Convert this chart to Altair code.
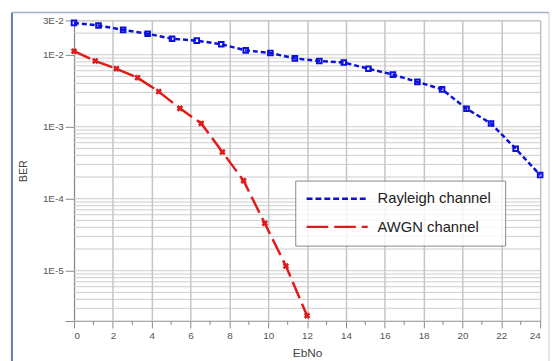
import math
import altair as alt
import pandas as pd

series = ["Rayleigh channel", "AWGN channel"]

ebno_rayleigh = [0, 1.26, 2.53, 3.79, 5.05, 6.32, 7.58, 8.84, 10.11, 11.37,
                 12.63, 13.89, 15.16, 16.42, 17.68, 18.95, 20.21, 21.47, 22.74, 24]
ber_rayleigh = [2.77e-2, 2.55e-2, 2.22e-2, 1.96e-2, 1.67e-2, 1.57e-2, 1.40e-2, 1.15e-2, 1.06e-2, 8.9e-3,
                8.2e-3, 7.8e-3, 6.4e-3, 5.3e-3, 4.2e-3, 3.3e-3, 1.78e-3, 1.11e-3, 4.95e-4, 2.13e-4]

ebno_awgn = [0, 1.09, 2.18, 3.27, 4.36, 5.45, 6.55, 7.64, 8.73, 9.82, 10.91, 12]
ber_awgn = [1.12e-2, 8.2e-3, 6.4e-3, 4.8e-3, 3.08e-3, 1.80e-3, 1.11e-3, 4.45e-4, 1.78e-4, 4.55e-5, 1.16e-5, 2.37e-6]

x_major = list(range(0, 25, 2))
x_minor = list(range(1, 25, 2))
y_label_values = [2e-6, 1e-5, 1e-4, 1e-3, 1e-2, 3e-2]
y_label_texts = ["", "1E-5", "1E-4", "1E-3", "1E-2", "3E-2"]
y_grid_values = [k * 10.0 ** e for e in range(-6, -1) for k in range(1, 10)]
y_grid_values = [v for v in y_grid_values if 2e-6 <= v <= 3.01e-2]

df = pd.DataFrame({
    "ebno": ebno_rayleigh + ebno_awgn,
    "ber": ber_rayleigh + ber_awgn,
    "series": [series[0]] * len(ebno_rayleigh) + [series[1]] * len(ebno_awgn),
})
df_r = df[df.series == series[0]]
df_a = df[df.series == series[1]]
df_ygrid = pd.DataFrame({"ber": y_grid_values})
df_xminor = pd.DataFrame({"ebno": x_minor})

FONT = "Liberation Sans"
xs = alt.Scale(domain=[0, 24], nice=False, zero=False)
ys = alt.Scale(type="log", domain=[2e-6, 3e-2], nice=False)

conds = " : ".join([f"abs(log(datum.value)/LN10 - ({math.log10(v):.6f})) < 0.01 ? '{t}'"
                    for v, t in zip(y_label_values, y_label_texts)]) + " : ''"

x_axis = alt.Axis(
    orient="bottom", values=x_major, grid=True, gridColor="#c4c4c4", gridWidth=1.5,
    tickSize=7, tickColor="#888", domainColor="#888", labelColor="#555",
    labelFontSize=10, labelFont=FONT, labelPadding=3, title="EbNo",
    titleFont=FONT, titleFontSize=12, titleFontWeight="normal", titleColor="#444",
    titlePadding=7)
y_axis = alt.Axis(
    orient="left", values=y_label_values, labelExpr=conds, grid=False,
    tickSize=9, tickColor="#888", domainColor="#888", labelColor="#555",
    labelFontSize=10, labelFont=FONT, labelPadding=2, title="BER",
    titleFont=FONT, titleFontSize=11, titleFontWeight="normal", titleColor="#444",
    titlePadding=14)

X = alt.X("ebno:Q", scale=xs, axis=x_axis)
Y = alt.Y("ber:Q", scale=ys, axis=y_axis)

colors = ["#0c10dc", "#e01a1a"]
dashes = [[5, 3], [18, 6]]

ygrid = alt.Chart(df_ygrid).mark_rule(color="#cbcbcb", strokeWidth=1).encode(
    y=Y, x=alt.value(0), x2=alt.value(473))

xminor = alt.Chart(df_xminor).mark_rule(color="#888", strokeWidth=1).encode(
    x=X, y=alt.value(305), y2=alt.value(309))

line_r = alt.Chart(df_r).mark_line(strokeWidth=2.5, color=colors[0], strokeDash=dashes[0]).encode(
    x=X, y=Y, order="ebno:Q")
line_a = alt.Chart(df_a).mark_line(strokeWidth=2.5, color=colors[1], strokeDash=dashes[1]).encode(
    x=X, y=Y, order="ebno:Q")

pts_r = alt.Chart(df_r).mark_point(shape="square", filled=False, strokeWidth=2,
                                   size=22, color=colors[0], opacity=1).encode(x=X, y=Y)
pts_a = alt.Chart(df_a).mark_point(shape="cross", filled=True, size=45, angle=45,
                                   color=colors[1], opacity=1).encode(x=X, y=Y)

# legend (drawn as a boxed key inside the plot)
df_leg = pd.DataFrame({"label": series})
one = df_leg.head(1)
leg_box = alt.Chart(one).mark_rect(fill="white", fillOpacity=0.8, stroke="#888",
                                   strokeWidth=1).encode(
    x=alt.value(225), x2=alt.value(438), y=alt.value(163), y2=alt.value(229))
leg_line_r = alt.Chart(one).mark_rule(color=colors[0], strokeWidth=2.5,
                                      strokeDash=[6, 3]).encode(
    x=alt.value(236), x2=alt.value(298), y=alt.value(181))
leg_line_a = alt.Chart(one).mark_rule(color=colors[1], strokeWidth=2.5,
                                      strokeDash=[22, 6]).encode(
    x=alt.value(236), x2=alt.value(298), y=alt.value(209.5))
leg_txt_r = alt.Chart(df_leg[df_leg.label == series[0]]).mark_text(
    align="left", baseline="middle", font=FONT, fontSize=15, color="#222").encode(
    text="label:N", x=alt.value(308), y=alt.value(180))
leg_txt_a = alt.Chart(df_leg[df_leg.label == series[1]]).mark_text(
    align="left", baseline="middle", font=FONT, fontSize=15, color="#222").encode(
    text="label:N", x=alt.value(308), y=alt.value(210))

frame_left = alt.Chart(one).mark_rule(color="#5b7db3", strokeWidth=2).encode(
    x=alt.value(-63), y=alt.value(-8), y2=alt.value(360))
frame_top = alt.Chart(one).mark_rule(color="#9fb2ca", strokeWidth=1.5).encode(
    x=alt.value(-63), x2=alt.value(482), y=alt.value(-8))
frame_right = alt.Chart(one).mark_rule(color="#c5d0de", strokeWidth=1).encode(
    x=alt.value(482), y=alt.value(-8), y2=alt.value(360))

chart = alt.layer(
    ygrid, xminor, line_r, line_a, pts_r, pts_a,
    leg_box, leg_line_r, leg_line_a, leg_txt_r, leg_txt_a,
    frame_left, frame_top, frame_right,
).properties(
    width=473, height=305,
    autosize=alt.AutoSizeParams(type="none"),
    padding={"left": 67, "top": 10, "right": 10, "bottom": 38},
).configure_view(stroke="#aaa", strokeWidth=1)

chart.save("out.html", embed_options={"renderer": "svg", "actions": False})
